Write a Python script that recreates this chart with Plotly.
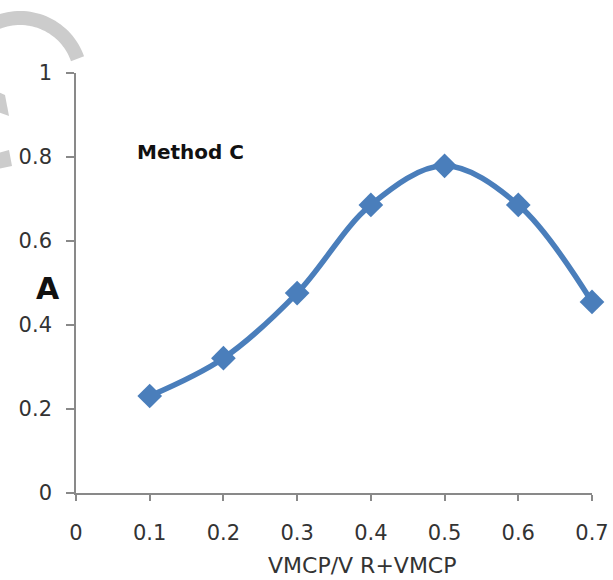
import numpy as np
import plotly.graph_objects as go

# Job's method (continuous variation) data
mole_fraction = [0.1, 0.2, 0.3, 0.4, 0.5, 0.6, 0.7]
absorbance = [0.231, 0.321, 0.476, 0.686, 0.779, 0.686, 0.455]

x_ticks = [0, 0.1, 0.2, 0.3, 0.4, 0.5, 0.6, 0.7]
y_ticks = [0, 0.2, 0.4, 0.6, 0.8, 1]

W, H = 613, 580
L, R, T, B = 76, 21, 73, 87
BLUE = "#4a7ebb"
AXIS = "#898989"
FONT = "DejaVu Sans"


def px(x, y):
    """Pixel position on the page -> paper coordinates."""
    return (x - L) / (W - L - R), (H - B - y) / (H - T - B)


def path_from(points, close=False):
    coords = [px(x, y) for x, y in points]
    d = "M " + " L ".join(f"{a:.5f},{b:.5f}" for a, b in coords)
    return d + (" Z" if close else "")


# Light grey decorative ring in the corner
theta = np.radians(np.linspace(185, 19.5, 60))
ring = [(20 + 61 * np.cos(t), 79 - 61 * np.sin(t)) for t in theta]
frag1 = [(-2, 92), (5, 95), (9, 116), (-2, 112)]
frag2 = [(-2, 153), (9, 150), (12, 166), (-2, 169)]

shapes = [
    dict(type="path", xref="paper", yref="paper", path=path_from(ring),
         line=dict(color="#cccccc", width=14), layer="below"),
    dict(type="path", xref="paper", yref="paper", path=path_from(frag1, True),
         fillcolor="#cccccc", line=dict(width=0), layer="below"),
    dict(type="path", xref="paper", yref="paper", path=path_from(frag2, True),
         fillcolor="#cccccc", line=dict(width=0), layer="below"),
]

fig = go.Figure()
fig.add_trace(go.Scatter(
    x=mole_fraction, y=absorbance,
    mode="lines+markers",
    line=dict(color=BLUE, width=5.5, shape="spline", smoothing=1.0),
    marker=dict(symbol="diamond", size=19, color=BLUE),
    cliponaxis=False,
    showlegend=False,
))

ax_common = dict(
    showline=True, linecolor=AXIS, linewidth=1.6,
    ticks="outside", tickcolor=AXIS, tickwidth=1.6,
    showgrid=False, zeroline=False, automargin=False,
    tickfont=dict(family=FONT, size=21, color="#333333"),
)

fig.update_xaxes(range=[0, 0.7], tickvals=x_ticks, ticklen=6,
                 ticklabelstandoff=14, **ax_common)
fig.update_yaxes(range=[0, 1], tickvals=y_ticks, ticklen=8,
                 ticklabelstandoff=10, **ax_common)


def label(text, x, y, size, color):
    ax, ay = px(x, y)
    return dict(text=text, xref="paper", yref="paper", x=ax, y=ay,
                xanchor="center", yanchor="middle", showarrow=False,
                font=dict(family=FONT, size=size, color=color))


annotations = [
    label("<b>Method C</b>", 190, 152, 20, "#111111"),
    label("<b>A</b>", 48, 288, 30, "#111111"),
    label("VMCP/V R+VMCP", 362, 565, 22, "#333333"),
]

fig.update_layout(
    width=W, height=H,
    margin=dict(l=L, r=R, t=T, b=B),
    paper_bgcolor="white", plot_bgcolor="white",
    shapes=shapes, annotations=annotations,
)

fig.write_html("out.html")
